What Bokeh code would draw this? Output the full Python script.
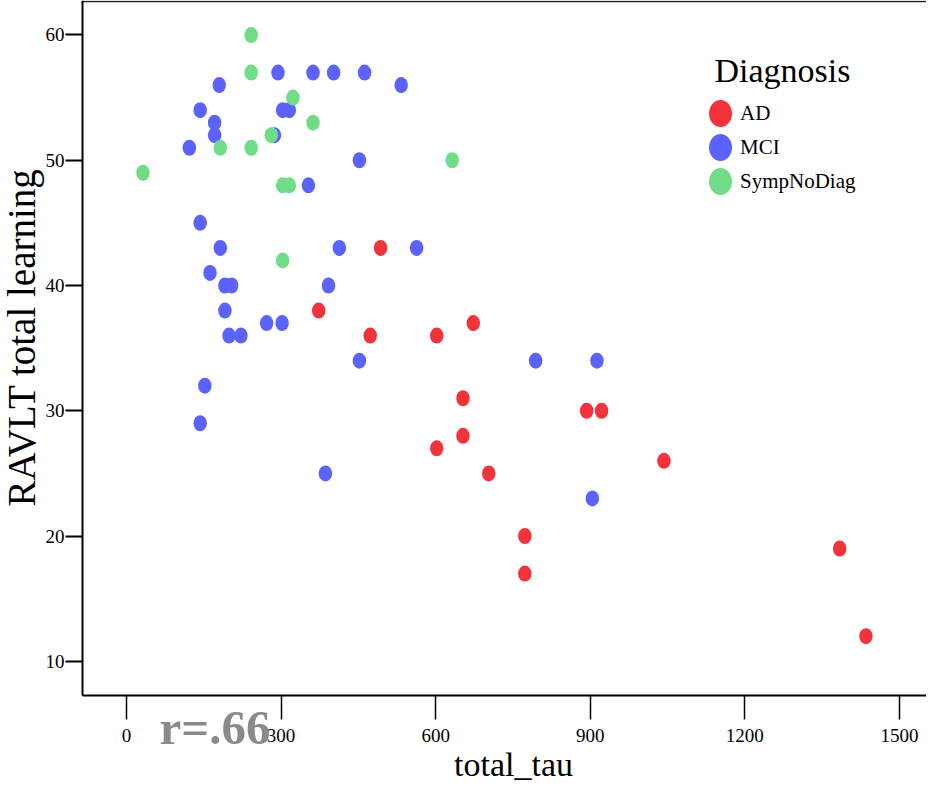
from bokeh.plotting import figure
from bokeh.models import (Range1d, FixedTicker, Label, Legend, LegendItem,
                          LinearAxis, ColumnDataSource)
from bokeh.embed import file_html
from bokeh.resources import INLINE

# ---- data ----
categories = ["AD", "MCI", "SympNoDiag"]
colors = ["#F2333B", "#5C62FE", "#70DC88"]

ad_tau = [493, 373, 473, 602, 673, 653, 893, 922, 653, 602, 703, 773, 773, 1043, 1384, 1435]
ad_ravlt = [43, 38, 36, 36, 37, 31, 30, 30, 28, 27, 25, 20, 17, 26, 19, 12]

mci_tau = [294, 362, 402, 462, 180, 533, 143, 303, 316, 171, 171, 287, 122, 452, 353,
           143, 182, 413, 563, 162, 191, 204, 392, 191, 272, 302, 199, 222, 452, 794,
           913, 152, 143, 386, 904]
mci_ravlt = [57, 57, 57, 57, 56, 56, 54, 54, 54, 53, 52, 52, 51, 50, 48,
             45, 43, 43, 43, 41, 40, 40, 40, 38, 37, 37, 36, 36, 34, 34,
             34, 32, 29, 25, 23]

snd_tau = [242, 242, 323, 362, 281, 182, 242, 632, 32, 303, 316, 303]
snd_ravlt = [60, 57, 55, 53, 52, 51, 51, 50, 49, 48, 48, 42]

x_ticks = [0, 300, 600, 900, 1200, 1500]
y_ticks = [10, 20, 30, 40, 50, 60]

x_title = "total_tau"
y_title = "RAVLT total learning"
legend_title = "Diagnosis"
annotation = "r=.66"

FONT = "Liberation Serif"

# visible window of the chart (data units); the axes sit at the lower/left edge of
# the plotted area, the text around them is drawn in the outer margin of the canvas
W, H = 926, 782
X_VIEW = (-244.5, 1552.5)
Y_VIEW = (0.32, 62.754)
X_AXIS_AT = 7.27      # y value where the x axis is drawn
Y_AXIS_AT = -85.4     # x value where the y axis is drawn
TOP_AT = 62.70

p = figure(width=W, height=H,
           x_range=Range1d(*X_VIEW), y_range=Range1d(*Y_VIEW),
           output_backend="svg", toolbar_location=None,
           min_border_left=0, min_border_right=0, min_border_top=0,
           min_border_bottom=0)
p.xgrid.visible = False
p.ygrid.visible = False
p.outline_line_color = None
p.background_fill_color = "white"
p.border_fill_color = "white"

xa = p.xaxis[0]
xa.fixed_location = X_AXIS_AT
xa.bounds = (Y_AXIS_AT, X_VIEW[1])
xa.ticker = FixedTicker(ticks=x_ticks)
xa.major_tick_out = 24
xa.major_tick_in = 0
xa.minor_tick_out = 0
xa.minor_tick_in = 0
xa.axis_line_width = 2
xa.axis_line_color = "black"
xa.major_tick_line_width = 1.5
xa.major_tick_line_color = "black"
xa.major_label_standoff = 10
xa.major_label_text_font = FONT
xa.major_label_text_font_size = "19px"
xa.major_label_text_color = "black"

ya = p.yaxis[0]
ya.fixed_location = Y_AXIS_AT
ya.bounds = (X_AXIS_AT, Y_VIEW[1])
ya.ticker = FixedTicker(ticks=y_ticks)
ya.major_tick_out = 17
ya.major_tick_in = 0
ya.minor_tick_out = 0
ya.minor_tick_in = 0
ya.axis_line_width = 2
ya.axis_line_color = "black"
ya.major_tick_line_width = 2
ya.major_tick_line_color = "black"
ya.major_label_standoff = 1
ya.major_label_text_font = FONT
ya.major_label_text_font_size = "19px"
ya.major_label_text_color = "black"

top = LinearAxis(fixed_location=TOP_AT, bounds=(Y_AXIS_AT, X_VIEW[1]),
                 ticker=FixedTicker(ticks=[]), major_tick_out=0, major_tick_in=0,
                 minor_tick_out=0, minor_tick_in=0, major_label_standoff=0,
                 major_label_text_font_size="0px", axis_line_width=1.5,
                 axis_line_color="#222222")
p.add_layout(top, "above")

renderers = []
for cat, col, xs, ys in zip(categories, colors,
                            [ad_tau, mci_tau, snd_tau],
                            [ad_ravlt, mci_ravlt, snd_ravlt]):
    src = ColumnDataSource(dict(x=xs, y=ys))
    r = p.ellipse(x="x", y="y", width=13.5, height=16,
                  width_units="screen", height_units="screen",
                  fill_color=col, line_color=None, source=src)
    renderers.append(r)

legend = Legend(items=[LegendItem(label=c, renderers=[r]) for c, r in zip(categories, renderers)],
                location=(700, 584),
                label_text_font=FONT, label_text_font_size="21px",
                label_text_color="black",
                glyph_width=40, glyph_height=34, spacing=0, label_standoff=0,
                padding=0, margin=0, border_line_color=None,
                background_fill_alpha=0)
p.add_layout(legend)

p.add_layout(Label(x=714, y=712, x_units="screen", y_units="screen", text=legend_title,
                   text_align="left", text_baseline="alphabetic",
                   text_font=FONT, text_font_size="34px", text_color="black"))
p.add_layout(Label(x=21, y=445, x_units="screen", y_units="screen", text=y_title,
                   angle=90, angle_units="deg", text_align="center",
                   text_baseline="middle", text_font=FONT, text_font_size="39px",
                   text_color="black"))
p.add_layout(Label(x=513, y=18, x_units="screen", y_units="screen", text=x_title,
                   text_align="center", text_baseline="alphabetic",
                   text_font=FONT, text_font_size="34px", text_color="black"))
p.add_layout(Label(x=159, y=55, x_units="screen", y_units="screen", text=annotation,
                   text_align="left", text_baseline="alphabetic",
                   text_font=FONT, text_font_size="49px", text_font_style="bold",
                   text_color="#8A8A8A"))

open("out.html", "w").write(file_html(p, INLINE))
